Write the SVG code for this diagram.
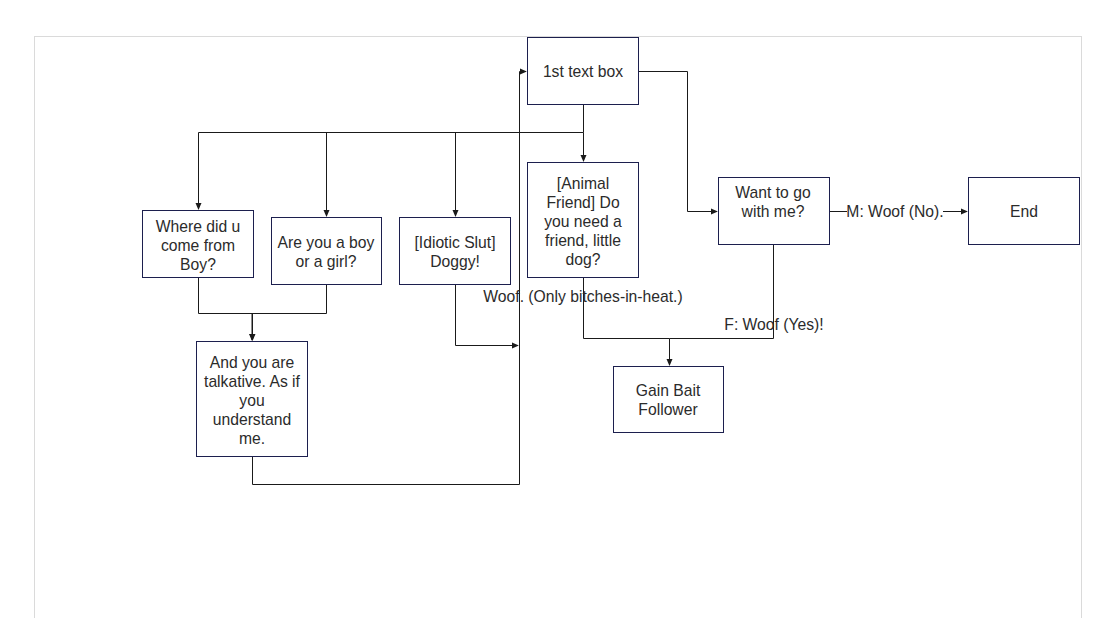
<svg xmlns="http://www.w3.org/2000/svg" width="1095" height="618" viewBox="0 0 1095 618">
<style>
.box{fill:#fff;stroke:#1c1f4e;stroke-width:1}
.t{font-family:"Liberation Sans",Arial,sans-serif;font-size:15.7px;fill:#2b2b2b;text-anchor:middle}
.c{fill:none;stroke:#1a1a1a;stroke-width:1}
</style>
<defs>
<marker id="a" viewBox="0 0 8 8" refX="7" refY="4" markerWidth="7" markerHeight="7" markerUnits="userSpaceOnUse" orient="auto">
<path d="M0,0.5 L8,4 L0,7.5 Z" fill="#1a1a1a"/>
</marker>
</defs>
<rect x="0" y="0" width="1095" height="618" fill="#fff"/>
<rect x="34.5" y="36.5" width="1047" height="600" fill="#fff" stroke="#dadada" stroke-width="1"/>
<g id="connectors">
<path class="c" d="M583.5,104 V132.5 H198.5 V209" marker-end="url(#a)"/>
<path class="c" d="M326.5,132.5 V216" marker-end="url(#a)"/>
<path class="c" d="M455.5,132.5 V216" marker-end="url(#a)"/>
<path class="c" d="M583.5,132.5 V161" marker-end="url(#a)"/>
<path class="c" d="M638,71.5 H687.5 V211.5 H717" marker-end="url(#a)"/>
<path class="c" d="M198.5,277 V313.5 H252.5 V340" marker-end="url(#a)"/>
<path class="c" d="M326.5,284 V313.5 H252 V340" marker-end="url(#a)"/>
<path class="c" d="M252.5,456 V484.5 H519.5 V71.5 H526" marker-end="url(#a)"/>
<path class="c" d="M455.5,284 V345.5 H518" marker-end="url(#a)"/>
<path class="c" d="M583.5,277 V338.5 H669.5 V365" marker-end="url(#a)"/>
<path class="c" d="M773.5,244 V338.5 H669.5"/>
<path class="c" d="M829,211.5 H967" marker-end="url(#a)"/>
<text class="t" x="583" y="301.5">Woof. (Only bitches-in-heat.)</text>
<text class="t" x="774" y="329.5">F: Woof (Yes)!</text>
<rect x="847" y="203" width="96" height="17" fill="#fff"/>
<text class="t" x="895" y="216.5">M: Woof (No).</text>
</g>
<g id="n1"><rect class="box" x="527.5" y="37.5" width="111" height="67"/><text class="t" x="583" y="76.5">1st text box</text></g>
<g id="n2"><rect class="box" x="527.5" y="162.5" width="111" height="115"/>
<text class="t" x="583" y="188.5">[Animal</text><text class="t" x="583" y="207.5">Friend] Do</text><text class="t" x="583" y="226.5">you need a</text><text class="t" x="583" y="245.5">friend, little</text><text class="t" x="583" y="264.5">dog?</text></g>
<g id="n3"><rect class="box" x="142.5" y="210.5" width="111" height="67"/>
<text class="t" x="198" y="231.5">Where did u</text><text class="t" x="198" y="250.5">come from</text><text class="t" x="198" y="269.5">Boy?</text></g>
<g id="n4"><rect class="box" x="271.5" y="217.5" width="110" height="67"/>
<text class="t" x="326" y="247.5">Are you a boy</text><text class="t" x="326" y="266.5">or a girl?</text></g>
<g id="n5"><rect class="box" x="399.5" y="217.5" width="111" height="67"/>
<text class="t" x="455" y="247.5">[Idiotic Slut]</text><text class="t" x="455" y="266.5">Doggy!</text></g>
<g id="n6"><rect class="box" x="196.5" y="341.5" width="111" height="115"/>
<text class="t" x="252" y="367.5">And you are</text><text class="t" x="252" y="386.5">talkative. As if</text><text class="t" x="252" y="405.5">you</text><text class="t" x="252" y="424.5">understand</text><text class="t" x="252" y="443.5">me.</text></g>
<g id="n7"><rect class="box" x="718.5" y="177.5" width="111" height="67"/>
<text class="t" x="773" y="197.5">Want to go</text><text class="t" x="773" y="216.5">with me?</text></g>
<g id="n8"><rect class="box" x="968.5" y="177.5" width="111" height="67"/><text class="t" x="1024" y="216.5">End</text></g>
<g id="n9"><rect class="box" x="613.5" y="366.5" width="110" height="66"/>
<text class="t" x="668" y="395.5">Gain Bait</text><text class="t" x="668" y="414.5">Follower</text></g>
</svg>
